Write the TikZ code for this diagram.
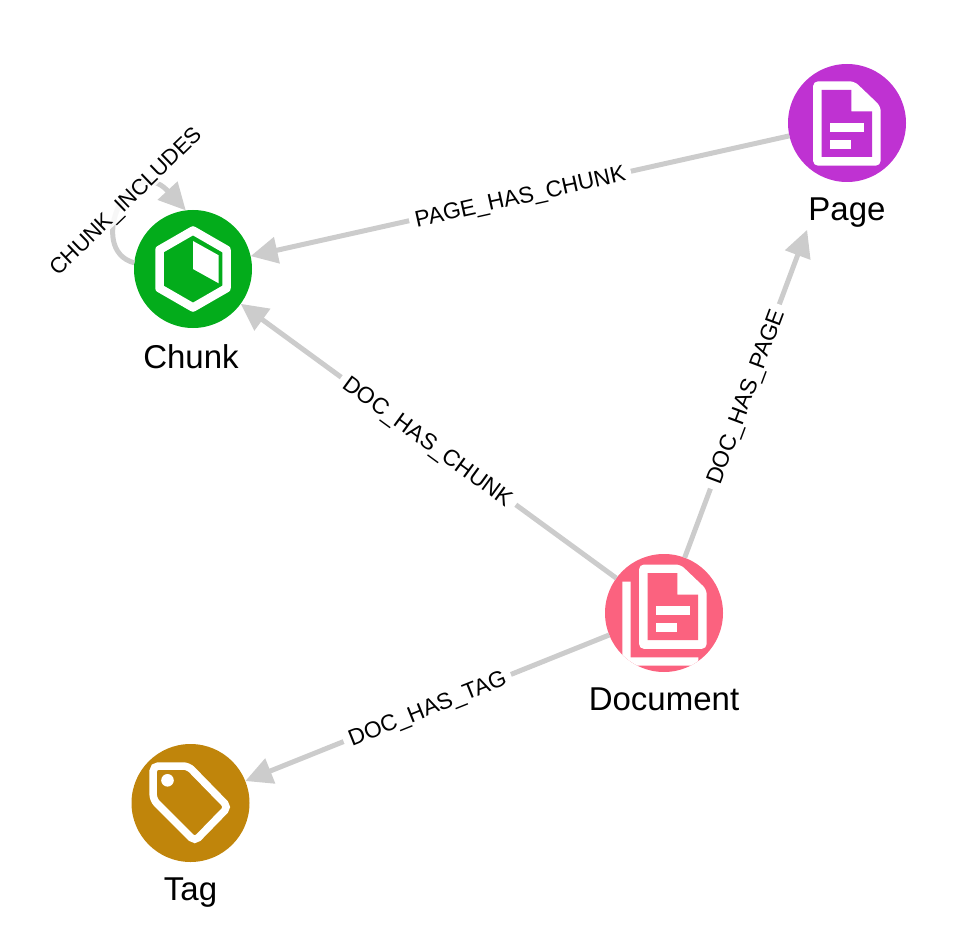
\documentclass[tikz,border=0pt]{standalone}
\usepackage{fontspec}
\setmainfont{Liberation Sans}
\usetikzlibrary{arrows.meta,positioning}

\definecolor{chunkgreen}{HTML}{03AC1B}
\definecolor{pagepurple}{HTML}{BF32D2}
\definecolor{docpink}{HTML}{FB627F}
\definecolor{taggold}{HTML}{C0850B}
\definecolor{relgray}{HTML}{CCCCCC}

\tikzset{
    entity/.style={circle, fill=#1, minimum size=118pt, inner sep=0pt, outer sep=0pt},
    caption/.style={font=\fontsize{33}{35}\selectfont, inner sep=0pt},
    rel/.style={line width=5pt, relgray, -{Triangle[length=27pt,width=26pt]}},
    rellabel/.style={font=\fontsize{22.8}{24}\selectfont, text=black, fill=white, inner xsep=6pt, inner ysep=2pt, text depth=0pt, sloped},
}

% page sheet, with the inner cut in the colour of the node
\newcommand{\pagesheet}[1]{
    \fill[white, rounded corners=5pt] (-34,-41.7) -- (7.5,-41.7) -- (33.7,-16.7) -- (33.7,42.7) -- (-34,42.7) -- cycle;
    \fill[#1] (-25.3,-33) -- (4.3,-33) -- (4.3,-11.7) -- (25,-11.7) -- (25,34) -- (-25.3,34) -- cycle;
    \fill[white] (-17.3,0) rectangle (17,8.7);
    \fill[white] (-17.3,17) rectangle (4.3,26);
}

\begin{document}
\begin{tikzpicture}[x=1pt, y=-1pt]
    \useasboundingbox (0,0) rectangle (953,928);

    % Entities
    \node[entity=chunkgreen] (chunk) at (193,269) {};
    \node[entity=pagepurple] (page) at (847,123) {};
    \node[entity=docpink] (document) at (664,613) {};
    \node[entity=taggold] (tag) at (190.5,803) {};

    % Captions
    \node[caption, below=16pt of chunk, xshift=-2pt] (chunkcaption) {Chunk};
    \node[caption, below=16pt of page] (pagecaption) {Page};
    \node[caption, below=16pt of document] (documentcaption) {Document};
    \node[caption, below=16pt of tag] (tagcaption) {Tag};

    % Relations
    \draw[rel] (page) -- node[rellabel] (pagechunk) {PAGE\_HAS\_CHUNK} (chunk);
    \draw[rel] (document) -- node[rellabel] (docchunk) {DOC\_HAS\_CHUNK} (chunk);
    \draw[rel, shorten >=55pt] (document) -- node[rellabel, pos=0.425] (docpage) {DOC\_HAS\_PAGE} (page);
    \draw[rel] (document) -- node[rellabel] (doctag) {DOC\_HAS\_TAG} (tag);

    % Self loop on chunk
    \draw[rel] (chunk.174) .. controls (85,250) and (130,150) .. (chunk.97);
    \node[rellabel, rotate=44, fill opacity=0.85, text opacity=1, font=\fontsize{22}{24}\selectfont] (chunkloop) at (125.5,201) {CHUNK\_INCLUDES};

    % Chunk icon
    \begin{scope}[shift={(chunk.center)}]
        \draw[white, line width=8.5pt, line join=round] (0,-38.5) -- (33.5,-19.2) -- (33.5,19.2) -- (0,38.5) -- (-33.5,19.2) -- (-33.5,-19.2) -- cycle;
        \fill[white] (0,-28) -- (25.7,-13.7) -- (25.7,14.3) -- (0,0) -- cycle;
    \end{scope}

    % Page icon
    \begin{scope}[shift={(page.center)}]
        \pagesheet{pagepurple}
    \end{scope}

    % Document icon
    \begin{scope}[shift={(document.center)}]
        \begin{scope}
            \clip (0,0) circle (59pt);
            \fill[white] (-41.7,-31.3) -- (-33.3,-31.3) -- (-33.3,44.3) -- (34.3,44.3) -- (34.3,52.7) -- (-41.7,52.7) -- cycle;
        \end{scope}
        \begin{scope}[shift={(9,-6.8)}]
            \pagesheet{docpink}
        \end{scope}
    \end{scope}

    % Tag icon
    \begin{scope}[shift={(tag.center)}]
        \draw[white, line width=7.5pt, rounded corners=5pt] (-37.3,-37) -- (-2.3,-37) -- (37.7,4) -- (4.3,38.3) -- (-37.3,-3.3) -- cycle;
        \fill[white] (-23,-22.7) circle (6.3pt);
    \end{scope}
\end{tikzpicture}
\end{document}
